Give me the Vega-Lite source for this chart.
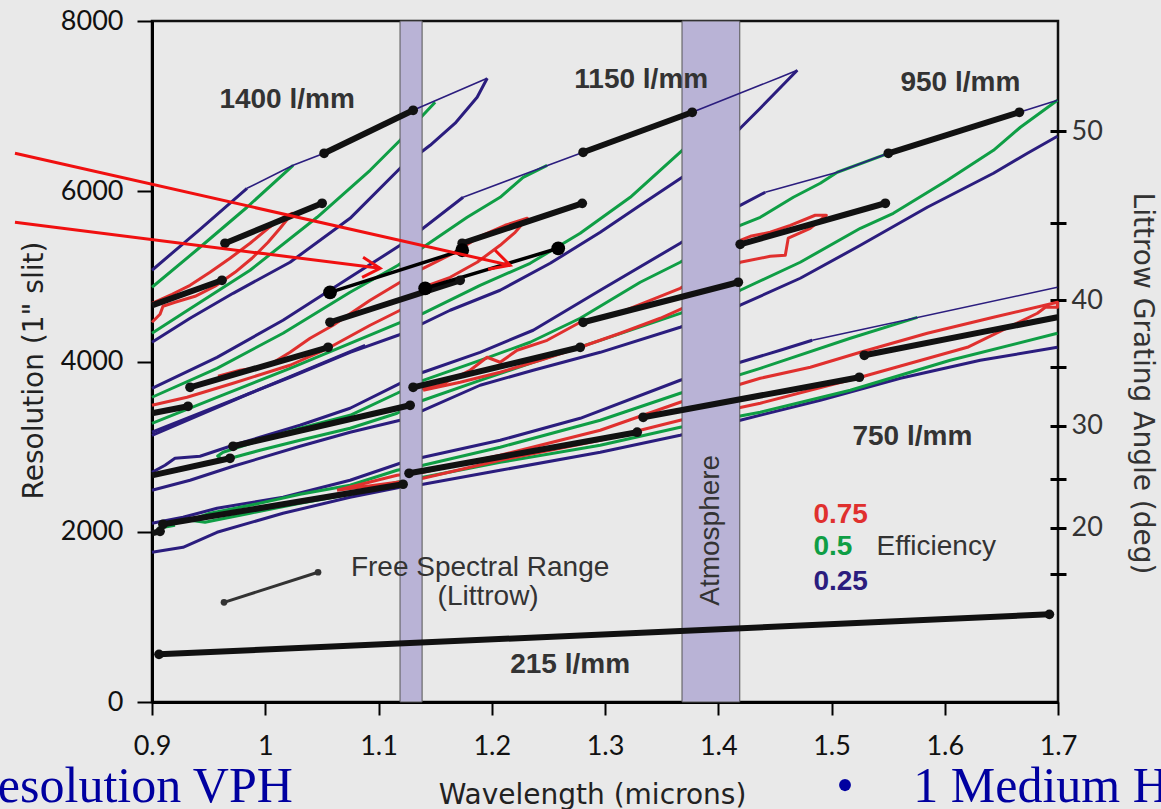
{
  "$schema": "https://vega.github.io/schema/vega-lite/v6.json",
  "width": 906,
  "height": 681,
  "autosize": {"type": "none"},
  "padding": {"left": 152, "top": 21, "right": 103, "bottom": 107},
  "background": "#e9e9e9",
  "config": {"view": {"stroke": "#111", "strokeWidth": 2.5}},
  "datasets": {
    "c": [
      {"id":"b14a","e":"0.25","x":0.9,"y":5072},{"id":"b14a","e":"0.25","x":0.9424,"y":5553},{"id":"b14a","e":"0.25","x":0.9839,"y":6035},
      {"id":"b14b","e":"0.25","x":1.196,"y":7327},{"id":"b14b","e":"0.25","x":1.1871,"y":7104},{"id":"b14b","e":"0.25","x":1.1677,"y":6799},{"id":"b14b","e":"0.25","x":1.1456,"y":6540},{"id":"b14b","e":"0.25","x":1.1191,"y":6270},{"id":"b14b","e":"0.25","x":1.0749,"y":5682},{"id":"b14b","e":"0.25","x":1.0219,"y":5166},{"id":"b14b","e":"0.25","x":0.9716,"y":4801},{"id":"b14b","e":"0.25","x":0.9336,"y":4508},{"id":"b14b","e":"0.25","x":0.9,"y":4226},
      {"id":"g14a","e":"0.5","x":0.9,"y":4872},{"id":"g14a","e":"0.5","x":0.9424,"y":5342},{"id":"g14a","e":"0.5","x":0.9839,"y":5812},{"id":"g14a","e":"0.5","x":1.0246,"y":6305},
      {"id":"g14b","e":"0.5","x":1.15,"y":7045},{"id":"g14b","e":"0.5","x":1.1367,"y":6857},{"id":"g14b","e":"0.5","x":1.1191,"y":6599},{"id":"g14b","e":"0.5","x":1.0926,"y":6246},{"id":"g14b","e":"0.5","x":1.0458,"y":5694},{"id":"g14b","e":"0.5","x":0.9866,"y":5072},{"id":"g14b","e":"0.5","x":0.9274,"y":4566},{"id":"g14b","e":"0.5","x":0.9,"y":4332},
      {"id":"r14","e":"0.75","x":0.9,"y":4684},{"id":"r14","e":"0.75","x":0.9177,"y":4790},{"id":"r14","e":"0.75","x":0.9336,"y":4895},{"id":"r14","e":"0.75","x":0.9512,"y":5048},{"id":"r14","e":"0.75","x":0.9689,"y":5213},{"id":"r14","e":"0.75","x":0.9866,"y":5389},{"id":"r14","e":"0.75","x":1.0025,"y":5565},{"id":"r14","e":"0.75","x":1.0148,"y":5683},{"id":"r14","e":"0.75","x":1.0237,"y":5741},{"id":"r14","e":"0.75","x":1.0131,"y":5565},{"id":"r14","e":"0.75","x":1.0025,"y":5401},{"id":"r14","e":"0.75","x":0.9883,"y":5213},{"id":"r14","e":"0.75","x":0.9733,"y":5048},{"id":"r14","e":"0.75","x":0.9557,"y":4884},{"id":"r14","e":"0.75","x":0.938,"y":4766},{"id":"r14","e":"0.75","x":0.9203,"y":4696},{"id":"r14","e":"0.75","x":0.9097,"y":4649},{"id":"r14","e":"0.75","x":0.9071,"y":4555},{"id":"r14","e":"0.75","x":0.9,"y":4461},
      {"id":"b11a","e":"0.25","x":0.9,"y":3685},{"id":"b11a","e":"0.25","x":0.9574,"y":4049},{"id":"b11a","e":"0.25","x":1.0157,"y":4484},{"id":"b11a","e":"0.25","x":1.0749,"y":4989},{"id":"b11a","e":"0.25","x":1.1191,"y":5365},{"id":"b11a","e":"0.25","x":1.1394,"y":5565},{"id":"b11a","e":"0.25","x":1.1747,"y":5929},
      {"id":"b11b","e":"0.25","x":1.4698,"y":7421},{"id":"b11b","e":"0.25","x":1.4371,"y":6975},{"id":"b11b","e":"0.25","x":1.4194,"y":6740},{"id":"b11b","e":"0.25","x":1.3682,"y":6164},{"id":"b11b","e":"0.25","x":1.3311,"y":5835},{"id":"b11b","e":"0.25","x":1.2958,"y":5518},{"id":"b11b","e":"0.25","x":1.2516,"y":5154},{"id":"b11b","e":"0.25","x":1.2074,"y":4837},{"id":"b11b","e":"0.25","x":1.1633,"y":4602},{"id":"b11b","e":"0.25","x":1.1173,"y":4308},{"id":"b11b","e":"0.25","x":1.0749,"y":4108},{"id":"b11b","e":"0.25","x":1.0219,"y":3815},{"id":"b11b","e":"0.25","x":0.9601,"y":3486},{"id":"b11b","e":"0.25","x":0.9,"y":3169},
      {"id":"b11c","e":"0.25","x":0.9,"y":3133},{"id":"b11c","e":"0.25","x":0.9866,"y":3627},{"id":"b11c","e":"0.25","x":1.0882,"y":4190},
      {"id":"g11a","e":"0.5","x":0.9,"y":3580},{"id":"g11a","e":"0.5","x":0.9574,"y":3920},{"id":"g11a","e":"0.5","x":1.0157,"y":4332},{"id":"g11a","e":"0.5","x":1.0749,"y":4813},{"id":"g11a","e":"0.5","x":1.1173,"y":5130},{"id":"g11a","e":"0.5","x":1.1394,"y":5342},{"id":"g11a","e":"0.5","x":1.1783,"y":5694},{"id":"g11a","e":"0.5","x":1.2074,"y":5929},{"id":"g11a","e":"0.5","x":1.2277,"y":6164},{"id":"g11a","e":"0.5","x":1.2489,"y":6305},
      {"id":"g11b","e":"0.5","x":0.9,"y":3274},{"id":"g11b","e":"0.5","x":0.9601,"y":3592},{"id":"g11b","e":"0.5","x":1.0219,"y":3920},{"id":"g11b","e":"0.5","x":1.0749,"y":4214},{"id":"g11b","e":"0.5","x":1.1173,"y":4449},{"id":"g11b","e":"0.5","x":1.1394,"y":4566},{"id":"g11b","e":"0.5","x":1.1897,"y":4895},{"id":"g11b","e":"0.5","x":1.2339,"y":5154},{"id":"g11b","e":"0.5","x":1.2781,"y":5506},{"id":"g11b","e":"0.5","x":1.3223,"y":5929},{"id":"g11b","e":"0.5","x":1.3682,"y":6481},{"id":"g11b","e":"0.5","x":1.4106,"y":7010},
      {"id":"r11","e":"0.75","x":0.9,"y":3486},{"id":"r11","e":"0.75","x":0.9309,"y":3580},{"id":"r11","e":"0.75","x":0.9716,"y":3744},{"id":"r11","e":"0.75","x":1.0219,"y":3956},{"id":"r11","e":"0.75","x":1.0555,"y":4155},{"id":"r11","e":"0.75","x":1.0926,"y":4426},{"id":"r11","e":"0.75","x":1.1191,"y":4602},{"id":"r11","e":"0.75","x":1.1394,"y":4872},{"id":"r11","e":"0.75","x":1.1633,"y":4989},{"id":"r11","e":"0.75","x":1.1871,"y":5166},{"id":"r11","e":"0.75","x":1.2074,"y":5365},{"id":"r11","e":"0.75","x":1.2207,"y":5518},{"id":"r11","e":"0.75","x":1.2313,"y":5683},{"id":"r11","e":"0.75","x":1.2118,"y":5600},{"id":"r11","e":"0.75","x":1.1897,"y":5471},{"id":"r11","e":"0.75","x":1.1677,"y":5283},{"id":"r11","e":"0.75","x":1.1394,"y":5095},{"id":"r11","e":"0.75","x":1.1191,"y":4931},{"id":"r11","e":"0.75","x":1.0926,"y":4719},{"id":"r11","e":"0.75","x":1.0599,"y":4426},{"id":"r11","e":"0.75","x":1.0396,"y":4273},{"id":"r11","e":"0.75","x":1.0219,"y":4108},{"id":"r11","e":"0.75","x":1.0016,"y":3944},{"id":"r11","e":"0.75","x":0.9777,"y":3897},{"id":"r11","e":"0.75","x":0.9583,"y":3826},
      {"id":"b95a","e":"0.25","x":0.9,"y":2698},{"id":"b95a","e":"0.25","x":0.9115,"y":2781},{"id":"b95a","e":"0.25","x":0.9203,"y":2863},{"id":"b95a","e":"0.25","x":0.9424,"y":2887},{"id":"b95a","e":"0.25","x":0.9716,"y":3016},{"id":"b95a","e":"0.25","x":0.9954,"y":3110},{"id":"b95a","e":"0.25","x":1.0307,"y":3251},{"id":"b95a","e":"0.25","x":1.0749,"y":3451},{"id":"b95a","e":"0.25","x":1.1191,"y":3744},{"id":"b95a","e":"0.25","x":1.1394,"y":3874},{"id":"b95a","e":"0.25","x":1.1897,"y":4108},{"id":"b95a","e":"0.25","x":1.2366,"y":4367},{"id":"b95a","e":"0.25","x":1.2958,"y":4837},{"id":"b95a","e":"0.25","x":1.3664,"y":5389},{"id":"b95a","e":"0.25","x":1.4194,"y":5835},{"id":"b95a","e":"0.25","x":1.4415,"y":5988},
      {"id":"b95b","e":"0.25","x":1.6995,"y":6646},{"id":"b95b","e":"0.25","x":1.673,"y":6446},{"id":"b95b","e":"0.25","x":1.643,"y":6211},{"id":"b95b","e":"0.25","x":1.5846,"y":5812},{"id":"b95b","e":"0.25","x":1.5255,"y":5365},{"id":"b95b","e":"0.25","x":1.4724,"y":4978},{"id":"b95b","e":"0.25","x":1.4194,"y":4661},{"id":"b95b","e":"0.25","x":1.3664,"y":4402},{"id":"b95b","e":"0.25","x":1.2958,"y":4108},{"id":"b95b","e":"0.25","x":1.2366,"y":3897},{"id":"b95b","e":"0.25","x":1.1897,"y":3721},{"id":"b95b","e":"0.25","x":1.1394,"y":3427},{"id":"b95b","e":"0.25","x":1.1191,"y":3310},{"id":"b95b","e":"0.25","x":1.0749,"y":3169},{"id":"b95b","e":"0.25","x":1.0307,"y":3004},{"id":"b95b","e":"0.25","x":0.9716,"y":2769},{"id":"b95b","e":"0.25","x":0.9336,"y":2605},{"id":"b95b","e":"0.25","x":0.9,"y":2487},
      {"id":"g95","e":"0.5","x":1.5502,"y":6446},{"id":"g95","e":"0.5","x":1.5051,"y":6223},{"id":"g95","e":"0.5","x":1.4901,"y":6094},{"id":"g95","e":"0.5","x":1.4663,"y":5929},{"id":"g95","e":"0.5","x":1.4371,"y":5694},{"id":"g95","e":"0.5","x":1.4194,"y":5600},{"id":"g95","e":"0.5","x":1.3664,"y":5166},{"id":"g95","e":"0.5","x":1.3311,"y":4931},{"id":"g95","e":"0.5","x":1.2781,"y":4508},{"id":"g95","e":"0.5","x":1.2339,"y":4226},{"id":"g95","e":"0.5","x":1.1897,"y":4014},{"id":"g95","e":"0.5","x":1.1394,"y":3779},{"id":"g95","e":"0.5","x":1.1164,"y":3627},{"id":"g95","e":"0.5","x":1.0749,"y":3368},{"id":"g95","e":"0.5","x":1.0307,"y":3216},{"id":"g95","e":"0.5","x":0.9954,"y":3075},{"id":"g95","e":"0.5","x":0.9627,"y":2934},{"id":"g95","e":"0.5","x":0.958,"y":2890},{"id":"g95","e":"0.5","x":0.9627,"y":2840},{"id":"g95","e":"0.5","x":0.9954,"y":2957},{"id":"g95","e":"0.5","x":1.0307,"y":3075},{"id":"g95","e":"0.5","x":1.0749,"y":3216},{"id":"g95","e":"0.5","x":1.1164,"y":3392},{"id":"g95","e":"0.5","x":1.1394,"y":3545},{"id":"g95","e":"0.5","x":1.1897,"y":3779},{"id":"g95","e":"0.5","x":1.2366,"y":3991},{"id":"g95","e":"0.5","x":1.2958,"y":4249},{"id":"g95","e":"0.5","x":1.3664,"y":4566},{"id":"g95","e":"0.5","x":1.4194,"y":4837},{"id":"g95","e":"0.5","x":1.4724,"y":5166},{"id":"g95","e":"0.5","x":1.5255,"y":5565},{"id":"g95","e":"0.5","x":1.5546,"y":5741},{"id":"g95","e":"0.5","x":1.6023,"y":6129},{"id":"g95","e":"0.5","x":1.643,"y":6481},{"id":"g95","e":"0.5","x":1.6668,"y":6752},{"id":"g95","e":"0.5","x":1.6995,"y":7069},
      {"id":"r95","e":"0.75","x":1.1394,"y":3662},{"id":"r95","e":"0.75","x":1.1721,"y":3756},{"id":"r95","e":"0.75","x":1.2074,"y":3874},{"id":"r95","e":"0.75","x":1.2428,"y":4014},{"id":"r95","e":"0.75","x":1.2781,"y":4167},{"id":"r95","e":"0.75","x":1.3134,"y":4332},{"id":"r95","e":"0.75","x":1.3488,"y":4508},{"id":"r95","e":"0.75","x":1.3841,"y":4719},{"id":"r95","e":"0.75","x":1.4194,"y":5166},{"id":"r95","e":"0.75","x":1.4459,"y":5236},{"id":"r95","e":"0.75","x":1.4592,"y":5248},{"id":"r95","e":"0.75","x":1.4618,"y":5448},{"id":"r95","e":"0.75","x":1.4812,"y":5565},{"id":"r95","e":"0.75","x":1.4954,"y":5718},{"id":"r95","e":"0.75","x":1.4856,"y":5718},{"id":"r95","e":"0.75","x":1.4636,"y":5600},{"id":"r95","e":"0.75","x":1.4459,"y":5518},{"id":"r95","e":"0.75","x":1.4283,"y":5471},{"id":"r95","e":"0.75","x":1.4194,"y":5424},{"id":"r95","e":"0.75","x":1.3841,"y":5001},{"id":"r95","e":"0.75","x":1.3664,"y":4860},{"id":"r95","e":"0.75","x":1.3399,"y":4719},{"id":"r95","e":"0.75","x":1.3134,"y":4578},{"id":"r95","e":"0.75","x":1.2781,"y":4461},{"id":"r95","e":"0.75","x":1.2489,"y":4249},{"id":"r95","e":"0.75","x":1.2224,"y":4132},{"id":"r95","e":"0.75","x":1.2074,"y":3991},{"id":"r95","e":"0.75","x":1.1959,"y":4050},{"id":"r95","e":"0.75","x":1.1809,"y":3897},{"id":"r95","e":"0.75","x":1.1544,"y":3721},{"id":"r95","e":"0.75","x":1.1394,"y":3685},{"id":"r95","e":"0.75","x":1.1394,"y":3662},
      {"id":"b75a","e":"0.25","x":0.9,"y":2099},{"id":"b75a","e":"0.25","x":0.9274,"y":2170},{"id":"b75a","e":"0.25","x":0.9574,"y":2276},{"id":"b75a","e":"0.25","x":1.0157,"y":2405},{"id":"b75a","e":"0.25","x":1.0749,"y":2605},{"id":"b75a","e":"0.25","x":1.1191,"y":2805},{"id":"b75a","e":"0.25","x":1.1394,"y":2875},{"id":"b75a","e":"0.25","x":1.2074,"y":3075},{"id":"b75a","e":"0.25","x":1.2781,"y":3333},{"id":"b75a","e":"0.25","x":1.3664,"y":3780},{"id":"b75a","e":"0.25","x":1.4194,"y":3991},{"id":"b75a","e":"0.25","x":1.4547,"y":4132},{"id":"b75a","e":"0.25","x":1.483,"y":4249},
      {"id":"b75b","e":"0.25","x":0.9,"y":1759},{"id":"b75b","e":"0.25","x":0.9274,"y":1817},{"id":"b75b","e":"0.25","x":0.9574,"y":1994},{"id":"b75b","e":"0.25","x":1.0157,"y":2217},{"id":"b75b","e":"0.25","x":1.0749,"y":2405},{"id":"b75b","e":"0.25","x":1.1191,"y":2522},{"id":"b75b","e":"0.25","x":1.1394,"y":2558},{"id":"b75b","e":"0.25","x":1.2074,"y":2722},{"id":"b75b","e":"0.25","x":1.2958,"y":2934},{"id":"b75b","e":"0.25","x":1.3664,"y":3133},{"id":"b75b","e":"0.25","x":1.4194,"y":3310},{"id":"b75b","e":"0.25","x":1.4901,"y":3545},{"id":"b75b","e":"0.25","x":1.5608,"y":3803},{"id":"b75b","e":"0.25","x":1.6314,"y":4014},{"id":"b75b","e":"0.25","x":1.6995,"y":4167},
      {"id":"g75","e":"0.5","x":1.5758,"y":4519},{"id":"g75","e":"0.5","x":1.5166,"y":4273},{"id":"g75","e":"0.5","x":1.4371,"y":3920},{"id":"g75","e":"0.5","x":1.3664,"y":3627},{"id":"g75","e":"0.5","x":1.2958,"y":3310},{"id":"g75","e":"0.5","x":1.2074,"y":2993},{"id":"g75","e":"0.5","x":1.1394,"y":2781},{"id":"g75","e":"0.5","x":1.1164,"y":2722},{"id":"g75","e":"0.5","x":1.0749,"y":2546},{"id":"g75","e":"0.5","x":1.0307,"y":2440},{"id":"g75","e":"0.5","x":0.9866,"y":2311},{"id":"g75","e":"0.5","x":0.9512,"y":2217},{"id":"g75","e":"0.5","x":0.9336,"y":2135},{"id":"g75","e":"0.5","x":0.9468,"y":2111},{"id":"g75","e":"0.5","x":0.9866,"y":2217},{"id":"g75","e":"0.5","x":1.0307,"y":2335},{"id":"g75","e":"0.5","x":1.0749,"y":2440},{"id":"g75","e":"0.5","x":1.1164,"y":2581},{"id":"g75","e":"0.5","x":1.1394,"y":2640},{"id":"g75","e":"0.5","x":1.2074,"y":2816},{"id":"g75","e":"0.5","x":1.2958,"y":3016},{"id":"g75","e":"0.5","x":1.3664,"y":3228},{"id":"g75","e":"0.5","x":1.4371,"y":3404},{"id":"g75","e":"0.5","x":1.5166,"y":3662},{"id":"g75","e":"0.5","x":1.6049,"y":4014},{"id":"g75","e":"0.5","x":1.6995,"y":4332},
      {"id":"g75c","e":"0.5","x":0.9053,"y":2041},{"id":"g75c","e":"0.5","x":0.9203,"y":2076},
      {"id":"r75","e":"0.75","x":1.0634,"y":2487},{"id":"r75","e":"0.75","x":1.1164,"y":2663},{"id":"r75","e":"0.75","x":1.1394,"y":2698},{"id":"r75","e":"0.75","x":1.2074,"y":2898},{"id":"r75","e":"0.75","x":1.2958,"y":3192},{"id":"r75","e":"0.75","x":1.3664,"y":3521},{"id":"r75","e":"0.75","x":1.4371,"y":3803},{"id":"r75","e":"0.75","x":1.4813,"y":3932},{"id":"r75","e":"0.75","x":1.5255,"y":4108},{"id":"r75","e":"0.75","x":1.5846,"y":4332},{"id":"r75","e":"0.75","x":1.643,"y":4520},{"id":"r75","e":"0.75","x":1.6995,"y":4696},{"id":"r75","e":"0.75","x":1.6995,"y":4637},{"id":"r75","e":"0.75","x":1.6889,"y":4637},{"id":"r75","e":"0.75","x":1.6818,"y":4567},{"id":"r75","e":"0.75","x":1.62,"y":4167},{"id":"r75","e":"0.75","x":1.5696,"y":3979},{"id":"r75","e":"0.75","x":1.5255,"y":3815},{"id":"r75","e":"0.75","x":1.4371,"y":3510},{"id":"r75","e":"0.75","x":1.3664,"y":3310},{"id":"r75","e":"0.75","x":1.2958,"y":3075},{"id":"r75","e":"0.75","x":1.2074,"y":2840},{"id":"r75","e":"0.75","x":1.1394,"y":2628},{"id":"r75","e":"0.75","x":1.1164,"y":2581},{"id":"r75","e":"0.75","x":1.0634,"y":2487}
    ],
    "thin": [
      {"id":"t14","x":0.9839,"y":6035},{"id":"t14","x":1.0246,"y":6305},{"id":"t14","x":1.052,"y":6446},{"id":"t14","x":1.1306,"y":6951},{"id":"t14","x":1.196,"y":7327},
      {"id":"t11","x":1.1747,"y":5929},{"id":"t11","x":1.2498,"y":6305},{"id":"t11","x":1.2807,"y":6458},{"id":"t11","x":1.377,"y":6928},{"id":"t11","x":1.4547,"y":7339},{"id":"t11","x":1.4698,"y":7421},
      {"id":"t95","x":1.4415,"y":5988},{"id":"t95","x":1.5051,"y":6223},{"id":"t95","x":1.5502,"y":6446},{"id":"t95","x":1.6659,"y":6928},{"id":"t95","x":1.6995,"y":7069},
      {"id":"t75","x":1.483,"y":4249},{"id":"t75","x":1.6995,"y":4872}
    ],
    "bands": [{"x":1.119,"xe":1.1385},{"x":1.368,"xe":1.419}],
    "fsr": [
      {"id":"k1","x":0.9,"y":4660},{"id":"k1","x":0.9618,"y":4954},
      {"id":"k2","x":0.9645,"y":5389},{"id":"k2","x":1.0502,"y":5859},
      {"id":"k3","x":1.052,"y":6446},{"id":"k3","x":1.1306,"y":6951},
      {"id":"k4","x":0.9,"y":3392},{"id":"k4","x":0.9318,"y":3474},
      {"id":"k5","x":0.9336,"y":3697},{"id":"k5","x":1.0555,"y":4167},
      {"id":"k6","x":1.0572,"y":4461},{"id":"k6","x":1.1721,"y":4954},
      {"id":"k7","x":1.1739,"y":5389},{"id":"k7","x":1.2799,"y":5858},
      {"id":"k8","x":1.2807,"y":6458},{"id":"k8","x":1.377,"y":6928},
      {"id":"k9","x":0.9,"y":2663},{"id":"k9","x":0.9689,"y":2863},
      {"id":"k10","x":0.9716,"y":3004},{"id":"k10","x":1.1279,"y":3486},
      {"id":"k11","x":1.1306,"y":3697},{"id":"k11","x":1.2781,"y":4167},
      {"id":"k12","x":1.2807,"y":4461},{"id":"k12","x":1.4177,"y":4931},
      {"id":"k13","x":1.4194,"y":5377},{"id":"k13","x":1.5475,"y":5859},
      {"id":"k14","x":1.5502,"y":6446},{"id":"k14","x":1.6659,"y":6928},
      {"id":"k15","x":0.9,"y":1982},{"id":"k15","x":0.9071,"y":2005},
      {"id":"k16","x":0.9097,"y":2088},{"id":"k16","x":1.1217,"y":2558},
      {"id":"k17","x":1.127,"y":2687},{"id":"k17","x":1.3284,"y":3169},
      {"id":"k18","x":1.3337,"y":3345},{"id":"k18","x":1.5246,"y":3815},
      {"id":"k19","x":1.529,"y":4073},{"id":"k19","x":1.6995,"y":4520},
      {"id":"k20","x":0.9062,"y":560},{"id":"k20","x":1.6924,"y":1030}
    ],
    "mid": [
      {"id":"m1","x":1.0572,"y":4813},{"id":"m1","x":1.1739,"y":5307},
      {"id":"m2","x":1.1412,"y":4860},{"id":"m2","x":1.2587,"y":5330}
    ],
    "dots": [
      {"x":0.9618,"y":4954},{"x":0.9645,"y":5389},{"x":1.0502,"y":5859},{"x":1.052,"y":6446},{"x":1.1306,"y":6951},
      {"x":0.9318,"y":3474},{"x":0.9336,"y":3697},{"x":1.0555,"y":4167},{"x":1.0572,"y":4461},{"x":1.1721,"y":4954},
      {"x":1.1739,"y":5389},{"x":1.2799,"y":5858},{"x":1.2807,"y":6458},{"x":1.377,"y":6928},
      {"x":0.9689,"y":2863},{"x":0.9716,"y":3004},{"x":1.1279,"y":3486},{"x":1.1306,"y":3697},{"x":1.2781,"y":4167},
      {"x":1.2807,"y":4461},{"x":1.4177,"y":4931},{"x":1.4194,"y":5377},{"x":1.5475,"y":5859},{"x":1.5502,"y":6446},{"x":1.6659,"y":6928},
      {"x":0.9071,"y":2005},{"x":0.9097,"y":2088},{"x":1.1217,"y":2558},{"x":1.127,"y":2687},{"x":1.3284,"y":3169},
      {"x":1.3337,"y":3345},{"x":1.5246,"y":3815},{"x":1.529,"y":4073},{"x":0.9062,"y":560},{"x":1.6924,"y":1030}
    ],
    "bigdots": [{"x":1.0572,"y":4813},{"x":1.1739,"y":5307},{"x":1.1412,"y":4860},{"x":1.2587,"y":5330}],
    "leg": [{"x":0.9636,"y":1171},{"x":1.0466,"y":1524}],
    "arrows": [
      {"id":"a1","x":0.779,"y":6446},{"id":"a1","x":1.2162,"y":5130},
      {"id":"a1h","x":1.203,"y":5307},{"id":"a1h","x":1.2162,"y":5130},{"id":"a1h","x":1.1968,"y":5083},
      {"id":"a2","x":0.779,"y":5636},{"id":"a2","x":1.1014,"y":5095},
      {"id":"a2h","x":1.0864,"y":5224},{"id":"a2h","x":1.1014,"y":5095},{"id":"a2h","x":1.0855,"y":4989}
    ],
    "glabels": [
      {"x":1.0193,"y":7069,"t":"1400 l/mm"},{"x":1.332,"y":7304,"t":"1150 l/mm"},{"x":1.6138,"y":7269,"t":"950 l/mm"},
      {"x":1.5714,"y":3110,"t":"750 l/mm"},{"x":1.2692,"y":431,"t":"215 l/mm"}
    ],
    "elabels": [{"x":1.484,"y":2200,"e":"0.75"},{"x":1.484,"y":1818,"e":"0.5"},{"x":1.484,"y":1410,"e":"0.25"}],
    "notes": [
      {"x":1.5925,"y":1818,"t":"Efficiency"},
      {"x":1.1897,"y":1571,"t":"Free Spectral Range"},
      {"x":1.1968,"y":1230,"t":"(Littrow)"}
    ],
    "atm": [{"x":1.3938,"y":2017,"t":"Atmosphere"}],
    "slide": [
      {"x":0.7639,"y":-1178,"t":"esolution VPH"},
      {"x":1.5041,"y":-1178,"t":"•"},
      {"x":1.5722,"y":-1178,"t":"1 Medium H"}
    ]
  },
  "layer": [
    {
      "layer": [
        {
          "data": {"name": "c"},
          "mark": {"type": "line", "strokeWidth": 3, "strokeJoin": "round"},
          "encoding": {
            "x": {"field": "x", "type": "quantitative", "title": "Wavelength (microns)", "scale": {"domain": [0.9, 1.7], "nice": false, "zero": false},
              "axis": {"values": [0.9, 1, 1.1, 1.2, 1.3, 1.4, 1.5, 1.6, 1.7], "format": "~g", "grid": false,
                "domainColor": "#000", "domainWidth": 3, "tickColor": "#000", "tickSize": 13, "tickWidth": 2,
                "labelFont": "Lato", "labelFontSize": 27, "labelColor": "#111", "labelPadding": 18, "labelFlush": false, "labelOverlap": false,
                "titleFont": "DejaVu Sans", "titleFontSize": 28, "titleFontWeight": "normal", "titleColor": "#222", "titlePadding": 22, "titleX": 440}},
            "y": {"field": "y", "type": "quantitative", "title": "Resolution (1\" slit)", "scale": {"domain": [0, 8000], "nice": false, "zero": false},
              "axis": {"values": [0, 2000, 4000, 6000, 8000], "format": "d", "grid": false,
                "domainColor": "#000", "domainWidth": 3, "tickColor": "#000", "tickSize": 15, "tickWidth": 2,
                "labelFont": "Lato", "labelFontSize": 27, "labelColor": "#111", "labelPadding": 14, "labelFlush": false, "labelOverlap": false,
                "titleFont": "DejaVu Sans", "titleFontSize": 28, "titleFontWeight": "normal", "titleColor": "#222", "titlePadding": 12, "titleY": 349}},
            "color": {"field": "e", "type": "nominal", "scale": {"domain": ["0.75", "0.5", "0.25"], "range": ["#e0302e", "#0f9e45", "#2b1d7e"]}, "legend": null},
            "detail": {"field": "id"},
            "order": {"value": null}
          }
        },
        {
          "data": {"name": "bands"},
          "mark": {"type": "rect", "fill": "#b9b3d6", "stroke": "#555", "strokeWidth": 1},
          "encoding": {
            "x": {"field": "x", "type": "quantitative", "title": "Wavelength (microns)"},
            "x2": {"field": "xe"},
            "y": {"datum": 0, "type": "quantitative", "title": "Resolution (1\" slit)"},
            "y2": {"datum": 8000}
          }
        },
        {
          "data": {"name": "thin"},
          "mark": {"type": "line", "strokeWidth": 1.6, "color": "#2b1d7e"},
          "encoding": {
            "x": {"field": "x", "type": "quantitative", "title": "Wavelength (microns)"},
            "y": {"field": "y", "type": "quantitative", "title": "Resolution (1\" slit)"},
            "detail": {"field": "id"},
            "order": {"value": null}
          }
        },
        {
          "data": {"name": "fsr"},
          "mark": {"type": "line", "strokeWidth": 6, "color": "#111"},
          "encoding": {
            "x": {"field": "x", "type": "quantitative", "title": "Wavelength (microns)"},
            "y": {"field": "y", "type": "quantitative", "title": "Resolution (1\" slit)"},
            "detail": {"field": "id"},
            "order": {"value": null}
          }
        },
        {
          "data": {"name": "mid"},
          "mark": {"type": "line", "strokeWidth": 3.5, "color": "#000"},
          "encoding": {
            "x": {"field": "x", "type": "quantitative", "title": "Wavelength (microns)"},
            "y": {"field": "y", "type": "quantitative", "title": "Resolution (1\" slit)"},
            "detail": {"field": "id"},
            "order": {"value": null}
          }
        },
        {
          "data": {"name": "leg"},
          "mark": {"type": "line", "strokeWidth": 3, "color": "#333"},
          "encoding": {
            "x": {"field": "x", "type": "quantitative", "title": "Wavelength (microns)"},
            "y": {"field": "y", "type": "quantitative", "title": "Resolution (1\" slit)"}
          }
        },
        {
          "data": {"name": "leg"},
          "mark": {"type": "point", "filled": true, "size": 45, "color": "#333", "opacity": 1},
          "encoding": {
            "x": {"field": "x", "type": "quantitative", "title": "Wavelength (microns)"},
            "y": {"field": "y", "type": "quantitative", "title": "Resolution (1\" slit)"}
          }
        },
        {
          "data": {"name": "dots"},
          "mark": {"type": "point", "filled": true, "size": 95, "color": "#111", "opacity": 1},
          "encoding": {
            "x": {"field": "x", "type": "quantitative", "title": "Wavelength (microns)"},
            "y": {"field": "y", "type": "quantitative", "title": "Resolution (1\" slit)"}
          }
        },
        {
          "data": {"name": "bigdots"},
          "mark": {"type": "point", "filled": true, "size": 190, "color": "#000", "opacity": 1},
          "encoding": {
            "x": {"field": "x", "type": "quantitative", "title": "Wavelength (microns)"},
            "y": {"field": "y", "type": "quantitative", "title": "Resolution (1\" slit)"}
          }
        },
        {
          "data": {"name": "glabels"},
          "mark": {"type": "text", "font": "Liberation Sans", "fontSize": 28, "fontWeight": "bold", "color": "#333", "align": "center", "baseline": "middle"},
          "encoding": {
            "x": {"field": "x", "type": "quantitative", "title": "Wavelength (microns)"},
            "y": {"field": "y", "type": "quantitative", "title": "Resolution (1\" slit)"},
            "text": {"field": "t"}
          }
        },
        {
          "data": {"name": "elabels"},
          "mark": {"type": "text", "font": "Liberation Sans", "fontSize": 28, "fontWeight": "bold", "align": "left", "baseline": "middle"},
          "encoding": {
            "x": {"field": "x", "type": "quantitative", "title": "Wavelength (microns)"},
            "y": {"field": "y", "type": "quantitative", "title": "Resolution (1\" slit)"},
            "text": {"field": "e"},
            "color": {"field": "e", "type": "nominal", "legend": null}
          }
        },
        {
          "data": {"name": "notes"},
          "mark": {"type": "text", "font": "Liberation Sans", "fontSize": 28, "color": "#333", "align": "center", "baseline": "middle"},
          "encoding": {
            "x": {"field": "x", "type": "quantitative", "title": "Wavelength (microns)"},
            "y": {"field": "y", "type": "quantitative", "title": "Resolution (1\" slit)"},
            "text": {"field": "t"}
          }
        },
        {
          "data": {"name": "atm"},
          "mark": {"type": "text", "font": "Liberation Sans", "fontSize": 28, "color": "#333", "angle": 270, "align": "center", "baseline": "middle"},
          "encoding": {
            "x": {"field": "x", "type": "quantitative", "title": "Wavelength (microns)"},
            "y": {"field": "y", "type": "quantitative", "title": "Resolution (1\" slit)"},
            "text": {"field": "t"}
          }
        },
        {
          "data": {"name": "arrows"},
          "mark": {"type": "line", "strokeWidth": 3, "color": "#f01010", "strokeJoin": "miter"},
          "encoding": {
            "x": {"field": "x", "type": "quantitative", "title": "Wavelength (microns)"},
            "y": {"field": "y", "type": "quantitative", "title": "Resolution (1\" slit)"},
            "detail": {"field": "id"},
            "order": {"value": null}
          }
        },
        {
          "data": {"name": "slide"},
          "mark": {"type": "text", "font": "Liberation Serif", "fontSize": 50, "color": "#0000a0", "align": "left", "baseline": "alphabetic"},
          "encoding": {
            "x": {"field": "x", "type": "quantitative", "title": "Wavelength (microns)"},
            "y": {"field": "y", "type": "quantitative", "title": "Resolution (1\" slit)"},
            "text": {"field": "t"}
          }
        }
      ]
    },
    {
      "data": {"values": [{"r": 0}, {"r": 8000}]},
      "mark": {"type": "point", "opacity": 0},
      "encoding": {
        "y": {"field": "r", "type": "quantitative", "scale": {"domain": [0, 8000], "nice": false, "zero": false},
          "axis": {"orient": "right", "values": [1507, 2047, 2623, 3247, 3938, 4719, 5624, 6702],
            "labelExpr": "datum.value == 2047 ? '20' : datum.value == 3247 ? '30' : datum.value == 4719 ? '40' : datum.value == 6702 ? '50' : ''",
            "title": "Littrow Grating Angle (deg)", "grid": false, "domain": false, "offset": -8,
            "tickColor": "#000", "tickSize": 16, "tickWidth": 3,
            "labelFont": "Lato", "labelFontSize": 27, "labelColor": "#333", "labelPadding": 5, "labelFlush": false, "labelOverlap": false,
            "titleFont": "DejaVu Sans", "titleFontSize": 28, "titleFontWeight": "normal", "titleColor": "#333", "titlePadding": 25, "titleY": 362}}
      }
    }
  ],
  "resolve": {"scale": {"y": "independent"}}
}
